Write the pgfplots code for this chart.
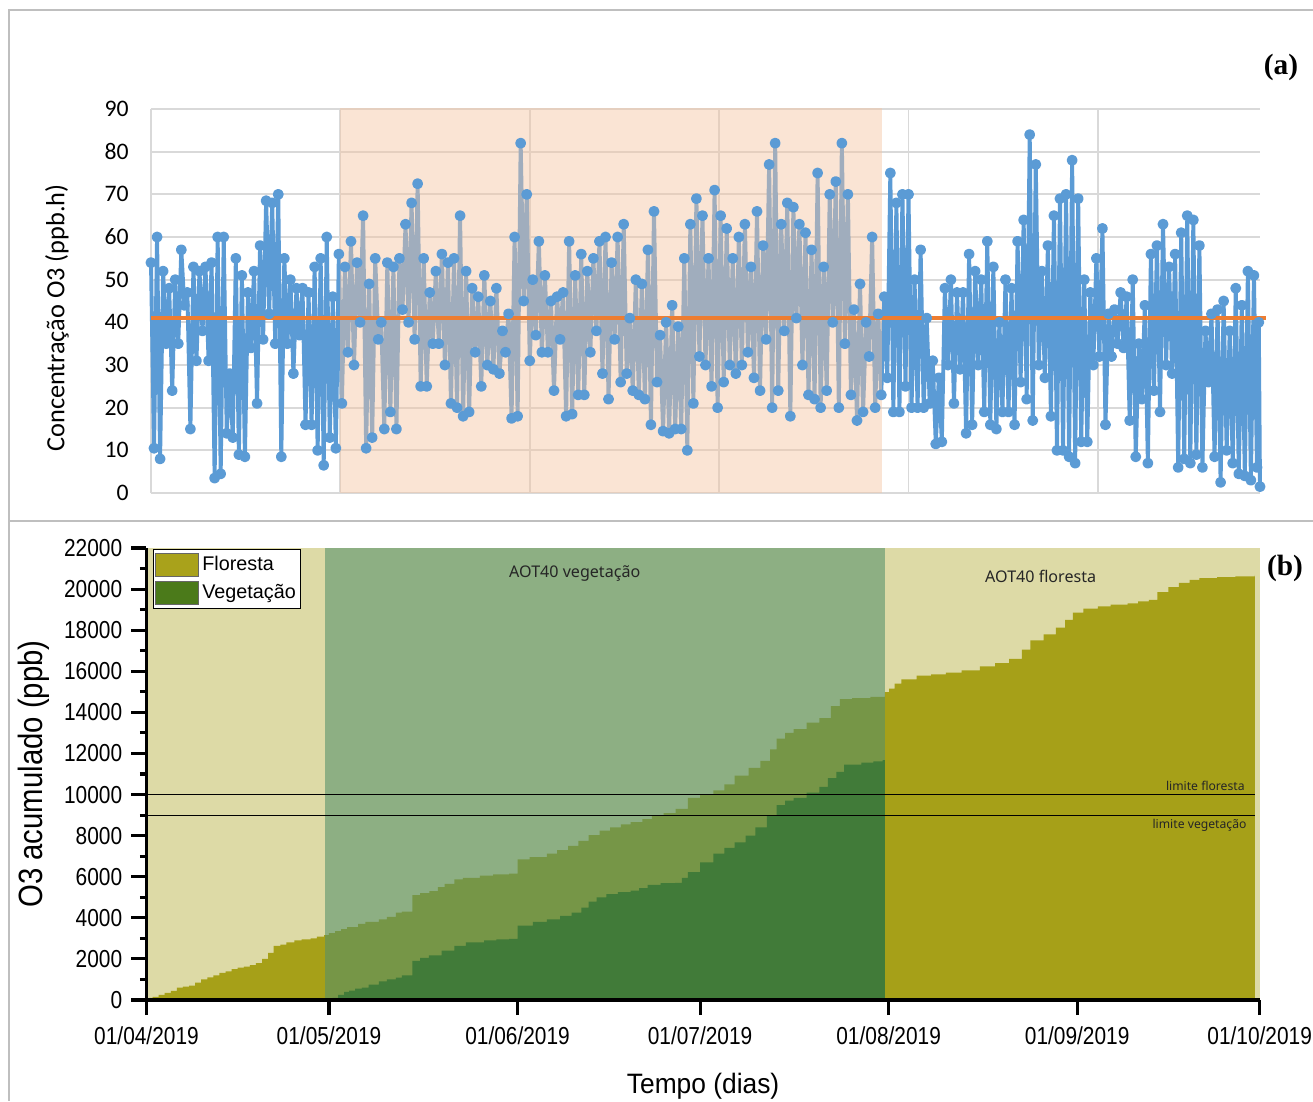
\documentclass[border=0pt]{standalone}
\usepackage{pgfplots}
\usepackage{pgfplotstable}
\pgfplotsset{compat=1.18}
\usepackage{fontspec}
\newfontfamily\carlito{Carlito}
\newfontfamily\arialf{Liberation Sans}
\newfontfamily\notof{Noto Sans}
\newfontfamily\tnr{Liberation Serif}
\definecolor{xlblue}{HTML}{5B9BD5}
\definecolor{xlorange}{HTML}{ED7D31}
\definecolor{xlgrid}{HTML}{D9D9D9}
\definecolor{peach}{RGB}{244,196,160}
\definecolor{bgyellow}{HTML}{DDDAA6}
\definecolor{olivef}{HTML}{A6A018}
\definecolor{bandgreen}{RGB}{84,144,106}
\definecolor{vegg}{HTML}{417B39}
\definecolor{legolive}{HTML}{A9A21B}
\definecolor{legveg}{HTML}{4B7A1A}
\definecolor{framegray}{HTML}{BFBFBF}

\pgfplotstableread{
d v
0.5 100
1 150
2 250
3 350
4 450
5 600
6 650
7 700
8 850
9 1000
10 1100
11 1200
12 1320
13 1400
14 1500
15 1580
16 1620
17 1700
18 1800
19 2000
20 2300
20.9 2630
22 2700
23 2800
24.3 2900
25.5 2950
27 3000
28 3080
29.2 3160
30 3250
31 3350
32 3450
33 3550
34.8 3710
36 3800
38.2 3920
39.5 4050
41 4250
42 4300
43.7 5100
45 5200
46.5 5300
47.9 5500
49 5650
50.6 5870
52 5950
54.8 6050
57 6120
59.6 6150
61 6850
63 6950
65.8 7130
67.5 7300
69.3 7500
71 7750
72.7 8030
74.5 8250
76.2 8400
78 8550
79.6 8660
81.5 8800
83.1 8950
85 9100
87 9300
89 9840
91 10000
93.2 10200
95 10500
96.7 10920
99 11300
100.9 11640
102.5 12200
103.6 12720
105 13000
106.4 13180
108.5 13500
110.6 13720
112.5 14300
114 14650
116 14700
119 14750
121.4 14980
122.1 15160
123 15400
124.1 15610
126.6 15790
129 15850
131.4 15930
134 16050
137 16240
139.5 16400
141.8 16600
143.9 17050
145.3 17500
147.5 17800
149.5 18130
151 18500
152.3 18860
154 19050
156.4 19160
158.5 19250
161.3 19300
163 19400
164.8 19480
166.2 19850
168 20100
169.7 20300
171.5 20450
173.1 20540
176 20580
179 20620
182.2 20690
}\floresta

\pgfplotstableread{
d v
29.8 0
30.6 100
31.5 250
32.5 400
33.3 460
34.3 550
35.4 600
36.5 750
38.2 910
39.5 1000
41 1090
42 1200
43.7 1900
45 2050
46.4 2170
48.5 2400
50.6 2630
52.5 2800
55.5 2900
57.5 2950
59.6 2980
61 3620
63.5 3800
65.8 3920
68 4100
69.9 4250
71.5 4500
72.7 4790
74 5000
75.6 5150
77.5 5250
79.6 5330
81 5450
82.4 5600
84.5 5690
86.9 5700
88 5950
89 6230
91 6700
93.2 7130
95 7400
96.7 7670
98.5 8000
100.1 8400
102 9000
103.6 9480
105 9700
106.4 9840
108.5 10100
110.6 10380
112 10800
113.4 11100
114.7 11460
117.5 11550
119.5 11620
121.0 11680
121.4 11680
}\vegetacao

\begin{document}
\begin{tikzpicture}[x=0.46pt,y=0.46pt]
\useasboundingbox (0,0) rectangle (1313,1101);
\fill[white] (0,0) rectangle (1313,1101);
\draw[framegray, line width=0.9pt] (1313,1091) -- (9,1091) -- (9,0);
\draw[framegray, line width=0.9pt] (9,580) -- (1313,580);

% ---------------- panel (a)
\begin{axis}[
  at={(69.46pt,279.68pt)}, anchor=south west,
  scale only axis, width=510.14pt, height=176.64pt,
  xmin=0, xmax=183, ymin=0, ymax=90,
  xtick={0,31.25,62.5,93.75,125,156.25}, xticklabels={},
  ytick={0,10,...,90},
  grid=major, grid style={line width=0.9pt, xlgrid},
  axis line style={draw=none}, major tick length=0pt,
  tick style={draw=none},
  /pgf/number format/assume math mode=true,
  yticklabel style={font=\carlito\fontsize{10.9}{12}\selectfont, xshift=-6.8pt, text=black},
  ylabel={Concentração O3 (ppb.h)},
  ylabel style={font=\carlito\fontsize{12.1}{14}\selectfont, at={(axis description cs:-0.0848,0.456)}, anchor=center},
  clip=false,
]
\addplot[xlblue, line width=1.8pt, line join=round, mark=*, mark size=1.6pt, mark options={fill=xlblue, draw=xlblue, solid}] coordinates {
(0,54)(0.5,10.5)(1,60)(1.5,8)(2,52)(2.5,35)(3,48)(3.5,24)(4,50)(4.5,35)
(5,57)(5.5,44)(6,47)(6.5,15)(7,53)(7.5,31)(8,52)(8.5,38)(9,53)(9.5,31)
(10,54)(10.5,3.5)(11,60)(11.5,4.5)(12,60)(12.5,14)(13,28)(13.5,13)(14,55)(14.5,9)
(15,51)(15.5,8.5)(16,47)(16.5,34)(17,52)(17.5,21)(18,58)(18.5,36)(19,68.5)(19.5,42)
(20,68)(20.5,35)(21,70)(21.5,8.5)(22,55)(22.5,35)(23,50)(23.5,28)(24,48)(24.5,37)
(25,48)(25.5,16)(26,47)(26.5,16)(27,53)(27.5,10)(28,55)(28.5,6.5)(29,60)(29.5,13)
(30,46)(30.5,10.5)(31,56)(31.5,21)(32,53)(32.5,33)(33,59)(33.5,30)(34,54)(34.5,40)
(35,65)(35.5,10.5)(36,49)(36.5,13)(37,55)(37.5,36)(38,40)(38.5,15)(39,54)(39.5,19)
(40,53)(40.5,15)(41,55)(41.5,43)(42,63)(42.5,40)(43,68)(43.5,36)(44,72.5)(44.5,25)
(45,55)(45.5,25)(46,47)(46.5,35)(47,52)(47.5,35)(48,56)(48.5,30)(49,54)(49.5,21)
(50,55)(50.5,20)(51,65)(51.5,18)(52,52)(52.5,19)(53,48)(53.5,33)(54,46)(54.5,25)
(55,51)(55.5,30)(56,45)(56.5,29)(57,48)(57.5,28)(58,38)(58.5,33)(59,42)(59.5,17.5)
(60,60)(60.5,18)(61,82)(61.5,45)(62,70)(62.5,31)(63,50)(63.5,37)(64,59)(64.5,33)
(65,51)(65.5,33)(66,45)(66.5,24)(67,46)(67.5,36)(68,47)(68.5,18)(69,59)(69.5,18.5)
(70,51)(70.5,23)(71,56)(71.5,23)(72,52)(72.5,33)(73,55)(73.5,38)(74,59)(74.5,28)
(75,60)(75.5,22)(76,54)(76.5,36)(77,60)(77.5,26)(78,63)(78.5,28)(79,41)(79.5,24)
(80,50)(80.5,23)(81,49)(81.5,22)(82,57)(82.5,16)(83,66)(83.5,26)(84,37)(84.5,14.5)
(85,40)(85.5,14)(86,44)(86.5,15)(87,39)(87.5,15)(88,55)(88.5,10)(89,63)(89.5,21)
(90,69)(90.5,32)(91,65)(91.5,30)(92,55)(92.5,25)(93,71)(93.5,20)(94,65)(94.5,26)
(95,62)(95.5,30)(96,55)(96.5,28)(97,60)(97.5,30)(98,63)(98.5,33)(99,53)(99.5,27)
(100,66)(100.5,24)(101,58)(101.5,36)(102,77)(102.5,20)(103,82)(103.5,24)(104,63)(104.5,38)
(105,68)(105.5,18)(106,67)(106.5,41)(107,63)(107.5,30)(108,61)(108.5,23)(109,57)(109.5,22)
(110,75)(110.5,20)(111,53)(111.5,24)(112,70)(112.5,40)(113,73)(113.5,20)(114,82)(114.5,35)
(115,70)(115.5,23)(116,43)(116.5,17)(117,49)(117.5,19)(118,40)(118.5,32)(119,60)(119.5,20)
(120,42)(120.5,23)(121,46)(121.5,27)(122,75)(122.5,19)(123,68)(123.5,19)(124,70)(124.5,25)
(125,70)(125.5,20)(126,50)(126.5,20)(127,57)(127.5,20)(128,41)(128.5,21)(129,31)(129.5,11.5)
(130,27)(130.5,12)(131,48)(131.5,30)(132,50)(132.5,21)(133,47)(133.5,29)(134,47)(134.5,14)
(135,56)(135.5,16)(136,52)(136.5,30)(137,50)(137.5,19)(138,59)(138.5,16)(139,53)(139.5,15)
(140,40)(140.5,19)(141,50)(141.5,19)(142,48)(142.5,16)(143,59)(143.5,26)(144,64)(144.5,22)
(145,84)(145.5,17)(146,77)(146.5,30)(147,52)(147.5,27)(148,58)(148.5,18)(149,65)(149.5,10)
(150,69)(150.5,10)(151,70)(151.5,8.5)(152,78)(152.5,7)(153,69)(153.5,12)(154,50)(154.5,12)
(155,47)(155.5,30)(156,55)(156.5,32)(157,62)(157.5,16)(158,42)(158.5,32)(159,43)(159.5,35)
(160,47)(160.5,34)(161,46)(161.5,17)(162,50)(162.5,8.5)(163,35)(163.5,22)(164,44)(164.5,7)
(165,56)(165.5,24)(166,58)(166.5,19)(167,63)(167.5,30)(168,53)(168.5,28)(169,56)(169.5,6)
(170,61)(170.5,8)(171,65)(171.5,7)(172,64)(172.5,9)(173,58)(173.5,6)(174,38)(174.5,26)
(175,42)(175.5,8.5)(176,43)(176.5,2.5)(177,45)(177.5,10)(178,38)(178.5,7)(179,48)(179.5,4.5)
(180,44)(180.5,4)(181,52)(181.5,3)(182,51)(182.5,6)(182.8,40)(183,1.5)
};
\addplot[fill=peach, fill opacity=0.45, draw=none] coordinates {(31.2,90.3)(120.6,90.3)} \closedcycle;
\addplot[xlorange, line width=1.85pt] coordinates {(0,41)(184,41)};
\end{axis}
\node[font=\tnr\bfseries\fontsize{13.5}{15}\selectfont] at (1281,1034) {(a)};

% ---------------- panel (b)
\begin{axis}[
  at={(67.39pt,46.46pt)}, anchor=south west,
  scale only axis, width=512.07pt, height=207.92pt,
  xmin=0, xmax=183, ymin=0, ymax=22000,
  axis x line=bottom, axis y line=left,
  axis line style={-, line width=1.4pt, black},
  axis on top,
  xtick={0,30,61,91,122,153,183},
  xticklabels={01/04/2019,01/05/2019,01/06/2019,01/07/2019,01/08/2019,01/09/2019,01/10/2019},
  ytick={0,2000,...,22000},
  minor y tick num=1,
  tick align=outside,
  major tick length=6.9pt, minor tick length=3pt,
  tick style={black, line width=1.4pt},
  scaled y ticks=false,
  /pgf/number format/1000 sep={},
  /pgf/number format/assume math mode=true,
  tick label style={font=\arialf\fontsize{11.3}{13}\selectfont, xscale=0.85},
  xticklabel style={yshift=-1.8pt},
  yticklabel style={xshift=-1.5pt},
  axis background/.style={fill=bgyellow},
  xlabel={Tempo (dias)},
  xlabel style={font=\arialf\fontsize{12.9}{15}\selectfont, xscale=0.94, at={(axis description cs:0.5,-0.2058)}, anchor=base},
  ylabel={O3 acumulado (ppb)},
  ylabel style={font=\arialf\fontsize{15.5}{18}\selectfont, xscale=0.87, at={(axis description cs:-0.1015,0.5)}, anchor=center},
  legend style={at={(axis description cs:0.0058,0.9978)}, anchor=north west, draw=black, line width=0.6pt, fill=white,
    font=\arialf\fontsize{9.1}{10.5}\selectfont, inner xsep=0.5pt, inner ysep=1pt, row sep=0.8pt,
    nodes={inner xsep=1.6pt}},
  legend cell align=left,
]
\addlegendimage{legend image code/.code={\draw[fill=legolive, draw=black!60, line width=0.5pt] (0pt,-5.4pt) rectangle (19.8pt,5.4pt);}}
\addlegendentry{Floresta}
\addlegendimage{legend image code/.code={\draw[fill=legveg, draw=black!60, line width=0.5pt] (0pt,-5.4pt) rectangle (19.8pt,5.4pt);}}
\addlegendentry{Vegetação}

\addplot[const plot, fill=olivef, draw=none, forget plot] table[x=d, y=v] {\floresta} \closedcycle;
\addplot[fill=bandgreen, fill opacity=0.58, draw=none, forget plot] coordinates {(29.4,22000)(121.4,22000)} \closedcycle;
\addplot[const plot, fill=vegg, draw=none, forget plot] table[x=d, y=v] {\vegetacao} \closedcycle;
\addplot[black, line width=0.55pt, forget plot] coordinates {(0,10000)(182.2,10000)};
\addplot[black, line width=0.55pt, forget plot] coordinates {(0,9000)(182.2,9000)};

\node[font=\notof\fontsize{7.4}{9}\selectfont, text=black!85] at (axis cs:70.4,20780) {AOT40 vegetação};
\node[font=\notof\fontsize{7.4}{9}\selectfont, text=black!85] at (axis cs:147.0,20640) {AOT40 floresta};
\node[font=\notof\fontsize{5.6}{7}\selectfont, text=black!85, anchor=base east, inner sep=0pt] at (axis cs:180.6,10220) {limite floresta};
\node[font=\notof\fontsize{5.6}{7}\selectfont, text=black!85, anchor=base east, inner sep=0pt] at (axis cs:180.9,8370) {limite vegetação};
\end{axis}
\node[font=\tnr\bfseries\fontsize{13.5}{15}\selectfont] at (1285,533) {(b)};
\end{tikzpicture}
\end{document}
